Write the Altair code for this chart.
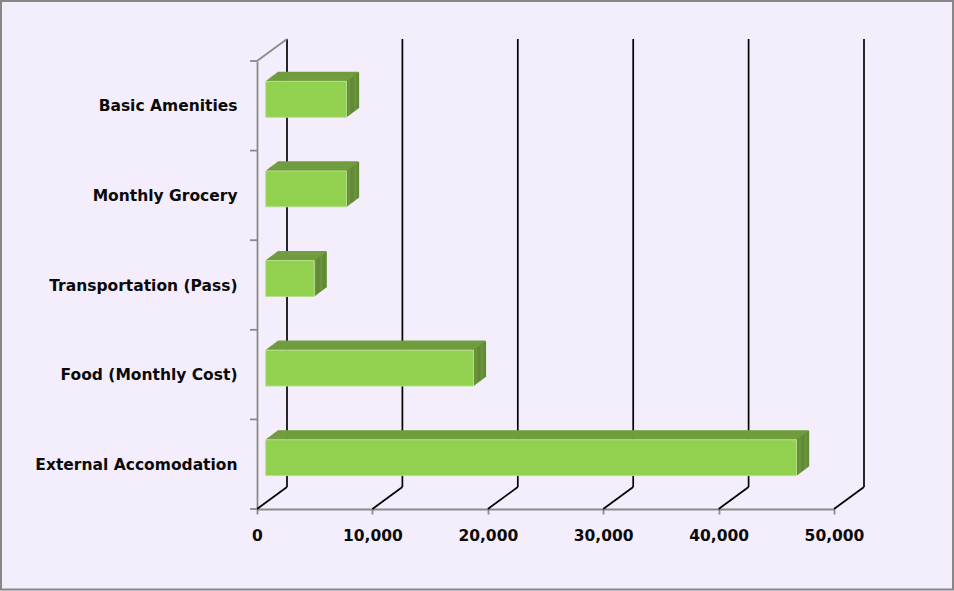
import json
import altair as alt
import pandas as pd

# ---------------- data ----------------
categories = [
    "Basic Amenities",
    "Monthly Grocery",
    "Transportation (Pass)",
    "Food (Monthly Cost)",
    "External Accomodation",
]
values = [7000, 7000, 4200, 18000, 46000]
x_ticks = [0, 10000, 20000, 30000, 40000, 50000]
y_bounds = [0, 1, 2, 3, 4, 5]

# ---------------- geometry / style ----------------
W, H = 577, 448
WALL_DX, WALL_DY = 30, -22
BAR_DX, BAR_DY = 8.7, -6.5
EXT_DX, EXT_DY = 12, -9
N_STEPS = 14

FRONT = "#92D050"
TOP = "#709C3E"
SIDE = "#618B31"
EDGE = "#B5E08D"
GRID = "#000000"
GRAY = "#8A8A8A"
BG = "#F4EEFC"
FONT = "DejaVu Sans"
FS = 15.5

n = len(categories)
df = pd.DataFrame({"category": categories, "value": values})
df["pos"] = [n - 0.5 - i for i in range(n)]
df["bot"] = df["pos"] - 0.2
df["top"] = df["pos"] + 0.2
df["zero"] = 0

grid_df = pd.DataFrame({"v": x_ticks, "ytop": [5] * len(x_ticks), "ybot": [0] * len(x_ticks)})
bounds_df = pd.DataFrame({"b": y_bounds})
corner_df = pd.DataFrame({"v": [0], "ytop": [5]})
frame_df = pd.DataFrame({"k": [0]})

xs = alt.Scale(domain=[0, 50000], nice=False, zero=False)
ys = alt.Scale(domain=[0, 5], nice=False, zero=False)

label_expr = f"{json.dumps(categories)}[{n - 1} - floor(datum.value)]"

X_AX = alt.Axis(
    values=x_ticks, format=",d", title=None, grid=False,
    domainColor=GRAY, domainWidth=1.8, tickColor=GRAY, tickWidth=1.8, tickSize=5,
    labelFont=FONT, labelFontWeight="bold", labelFontSize=FS, labelColor="#0A0A0A",
    labelPadding=14.5, labelFlush=False,
)
Y_AX = alt.Axis(
    values=[float(p) for p in df["pos"]], labelExpr=label_expr, title=None, grid=False,
    ticks=False, domainColor=GRAY, domainWidth=1.8,
    labelFont=FONT, labelFontWeight="bold", labelFontSize=FS, labelColor="#0A0A0A",
    labelPadding=20, labelBaseline="middle", labelLimit=0,
)


def X(field):
    return alt.X(field, scale=xs, axis=X_AX)


def Y(field):
    return alt.Y(field, scale=ys, axis=Y_AX)


# border of the whole picture
frame = alt.Chart(frame_df).mark_rect(
    fillOpacity=0, stroke="#878787", strokeWidth=2
).encode(
    x=alt.value(-256), x2=alt.value(954 - 257 - 1),
    y=alt.value(-60), y2=alt.value(591 - 61 - 1.5),
)

# back wall vertical gridlines
back = alt.Chart(grid_df).mark_rule(
    color=GRID, strokeWidth=1.7, xOffset=WALL_DX, yOffset=WALL_DY, y2Offset=WALL_DY
).encode(x=X("v:Q"), y=Y("ytop:Q"), y2="ybot:Q")

# floor diagonals
floor = alt.Chart(grid_df).mark_rule(
    color=GRID, strokeWidth=1.7, x2Offset=WALL_DX, y2Offset=WALL_DY
).encode(x=X("v:Q"), x2="v:Q", y=Y("ybot:Q"), y2="ybot:Q")

# top-left wall diagonal
corner = alt.Chart(corner_df).mark_rule(
    color=GRAY, strokeWidth=1.8, x2Offset=WALL_DX, y2Offset=WALL_DY
).encode(x=X("v:Q"), x2="v:Q", y=Y("ytop:Q"), y2="ytop:Q")

# left axis ticks at category boundaries
lticks = alt.Chart(bounds_df).mark_rule(color=GRAY, strokeWidth=1.8).encode(
    y=Y("b:Q"), x=alt.value(-7), x2=alt.value(0)
)

layers = [frame, back, floor, corner, lticks]

base = alt.Chart(df)
tops = []
sides = []
for k in range(1, N_STEPS + 1):
    t = k / N_STEPS
    ox = BAR_DX + EXT_DX * t
    oy = BAR_DY + EXT_DY * t
    tops.append(
        base.mark_rule(color=TOP, strokeWidth=1.3, xOffset=ox, x2Offset=ox, yOffset=oy).encode(
            x=X("zero:Q"), x2="value:Q", y=Y("top:Q")
        )
    )
    sides.append(
        base.mark_rule(color=SIDE, strokeWidth=1.3, xOffset=ox, yOffset=oy, y2Offset=oy).encode(
            x=X("value:Q"), y=Y("bot:Q"), y2="top:Q"
        )
    )
layers += tops + sides

front = base.mark_rect(
    color=FRONT, stroke=EDGE, strokeWidth=1,
    xOffset=BAR_DX, x2Offset=BAR_DX, yOffset=BAR_DY, y2Offset=BAR_DY,
).encode(x=X("zero:Q"), x2="value:Q", y=Y("bot:Q"), y2="top:Q")
layers.append(front)

chart = alt.layer(*layers).properties(
    width=W, height=H,
    padding={"left": 257, "top": 61, "right": 954 - 257 - W, "bottom": 591 - 61 - H},
    autosize=alt.AutoSizeParams(type="none"),
    background=BG,
).configure_view(stroke=None)

chart.save("out.html", embed_options={"renderer": "svg", "actions": False})
